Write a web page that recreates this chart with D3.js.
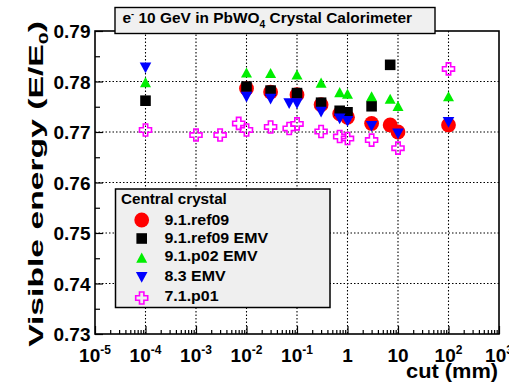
<!DOCTYPE html>
<html lang="en">
<head>
    <meta charset="UTF-8">
    <title>Visible energy vs cut</title>
    <script src="https://cdnjs.cloudflare.com/ajax/libs/d3/7.8.2/d3.min.js"></script>
    <style>
        body{
            margin: 0;
            background: white;
        }
        svg{
            display: block;
            font-family: "Liberation Sans", Arial, sans-serif;
            font-weight: bold;
        }
    </style>
</head>
<body>
    <div class="container"></div>
    <script>
        // data
        const ref09X = [0.01, 0.03, 0.1, 0.3, 0.7, 1, 3, 7, 10, 100];
        const ref09Y = [0.7786, 0.7779, 0.7774, 0.7754, 0.7736, 0.7729, 0.7717, 0.7714, 0.7700, 0.7714];

        const ref09EmvX = [1e-4, 0.01, 0.03, 0.1, 0.3, 0.7, 1, 3, 7];
        const ref09EmvY = [0.7762, 0.7790, 0.7782, 0.7777, 0.7758, 0.7742, 0.7739, 0.7751, 0.7833];

        const p02EmvX = [1e-4, 0.01, 0.03, 0.1, 0.3, 0.7, 1, 3, 7, 10, 100];
        const p02EmvY = [0.7798, 0.7817, 0.7816, 0.7813, 0.7797, 0.7778, 0.7775, 0.7770, 0.7765, 0.7751, 0.7770];

        const emv83X = [1e-4, 0.01, 0.03, 0.07, 0.1, 0.3, 0.7, 1, 3, 10, 100];
        const emv83Y = [0.7828, 0.7770, 0.7766, 0.7757, 0.7757, 0.7740, 0.7727, 0.7722, 0.7712, 0.7697, 0.7720];

        const p01X = [1e-4, 1e-3, 3e-3, 7e-3, 0.01, 0.03, 0.07, 0.1, 0.3, 0.7, 1, 3, 10, 100];
        const p01Y = [0.7704, 0.7694, 0.7694, 0.7717, 0.7704, 0.7710, 0.7707, 0.7716, 0.7701, 0.7691, 0.7687, 0.7684, 0.7668, 0.7825];

        const seriesNames = ['9.1.ref09', '9.1.ref09 EMV', '9.1.p02 EMV', '8.3 EMV', '7.1.p01'];
        const xTicks = [1e-5, 1e-4, 1e-3, 1e-2, 1e-1, 1, 10, 100, 1000];
        const xTickSup = ['-5', '-4', '-3', '-2', '-1', '', '', '2', '3'];
        const xTickBase = ['10', '10', '10', '10', '10', '1', '10', '10', '10'];
        const yTicks = [0.73, 0.74, 0.75, 0.76, 0.77, 0.78, 0.79];

        let width = 509;
        let height = 385;
        let mLeft = 95, mRight = 499, mTop = 31, mBottom = 334;

        const svg = d3.select('.container').append('svg')
            .attr('width', width).attr('height', height)

        const xScale = d3.scaleLog().domain([1e-5, 1e3]).range([mLeft, mRight])
        const yScale = d3.scaleLinear().domain([0.73, 0.79]).range([mBottom, mTop])

        // stretch a text element horizontally, either to a width or by a factor
        const fitWidth = (sel, w, anchorX) => {
            const bb = sel.node().getBBox()
            const s = w / bb.width
            sel.attr('transform', `translate(${anchorX},0) scale(${s},1) translate(${-anchorX},0)`)
        }
        const stretch = (sel, s, anchorX) => {
            sel.attr('transform', `translate(${anchorX},0) scale(${s},1) translate(${-anchorX},0)`)
        }

        // grid
        const grid = svg.append('g')
            .attr('stroke', 'black').attr('stroke-width', 1.1).attr('stroke-dasharray', '1.5,2')
        grid.selectAll('.gx').data(xTicks.slice(1, -1)).enter().append('line')
            .attr('x1', d => xScale(d)).attr('x2', d => xScale(d))
            .attr('y1', mTop).attr('y2', mBottom)
        grid.selectAll('.gy').data(yTicks.slice(1, -1)).enter().append('line')
            .attr('x1', mLeft).attr('x2', mRight)
            .attr('y1', d => yScale(d)).attr('y2', d => yScale(d))

        // axes (ticks pointing inward)
        const minorX = []
        xTicks.slice(0, -1).forEach(d => { for (let k = 2; k < 10; k++) minorX.push(d * k) })

        svg.append('g').attr('transform', `translate(0,${mBottom})`)
            .call(d3.axisBottom(xScale).tickValues(minorX).tickSize(-4).tickFormat(''))
        svg.append('g').attr('transform', `translate(0,${mBottom})`)
            .call(d3.axisBottom(xScale).tickValues(xTicks).tickSize(-8).tickFormat(''))

        const minorY = d3.range(0.735, 0.79, 0.01)
        svg.append('g').attr('transform', `translate(${mLeft},0)`)
            .call(d3.axisLeft(yScale).tickValues(minorY).tickSize(-5).tickFormat(''))
        const yMajor = svg.append('g').attr('transform', `translate(${mLeft},0)`)
            .call(d3.axisLeft(yScale).tickValues(yTicks).tickSize(-8).tickPadding(4.5)
                .tickFormat(d3.format('.2f')))

        svg.selectAll('.domain').remove()
        svg.selectAll('.tick line').attr('stroke', 'black').attr('stroke-width', 1.2)
        yMajor.selectAll('text')
            .style('font-size', '19px').style('font-family', '"Liberation Sans", Arial, sans-serif')
            .style('font-weight', 'bold').attr('fill', 'black').attr('dy', '0.36em')

        // x tick labels with exponents
        const xLab = svg.append('g').selectAll('text').data(xTicks).enter().append('text')
            .attr('x', d => xScale(d)).attr('y', 362)
            .attr('text-anchor', 'middle').style('font-size', '19px')
        xLab.append('tspan').text((d, i) => xTickBase[i])
        xLab.append('tspan').text((d, i) => xTickSup[i])
            .attr('dy', -8).style('font-size', '12px')

        // frame
        svg.append('rect')
            .attr('x', mLeft).attr('y', mTop).attr('width', mRight - mLeft).attr('height', mBottom - mTop)
            .attr('fill', 'none').attr('stroke', 'black').attr('stroke-width', 1.6)

        // marker shapes
        const sqPath = s => `M${-s},${-s}H${s}V${s}H${-s}Z`
        const upPath = s => `M0,${-s}L${s},${s * 0.85}L${-s},${s * 0.85}Z`
        const downPath = s => `M0,${s}L${s},${-s * 0.85}L${-s},${-s * 0.85}Z`
        const crossPath = (a, l) => `M${-a},${-l}H${a}V${-a}H${l}V${a}H${a}V${l}H${-a}V${a}H${-l}V${-a}H${-a}Z`

        const drawMarker = (g, kind) => {
            if (kind === 0) g.append('circle').attr('r', 7.4).attr('fill', '#ff0000')
            if (kind === 1) g.append('path').attr('d', sqPath(5.3)).attr('fill', 'black')
            if (kind === 2) g.append('path').attr('d', upPath(5.5)).attr('fill', '#00ee00')
            if (kind === 3) g.append('path').attr('d', downPath(5.8)).attr('fill', '#0000ff')
            if (kind === 4) g.append('path').attr('d', crossPath(2.2, 6)).attr('fill', 'none')
                .attr('stroke', '#ff00ff').attr('stroke-width', 1.6)
        }

        const allX = [ref09X, ref09EmvX, p02EmvX, emv83X, p01X]
        const allY = [ref09Y, ref09EmvY, p02EmvY, emv83Y, p01Y]

        allX.forEach((xs, k) => {
            const pts = xs.map((x, i) => ({x: x, y: allY[k][i]}))
            svg.append('g').selectAll('g').data(pts).enter().append('g')
                .attr('transform', d => `translate(${xScale(d.x)},${yScale(d.y)})`)
                .each(function () { drawMarker(d3.select(this), k) })
        })

        // legend
        const legY = [220, 238.5, 256, 276.5, 296]
        const legMarkY = [220, 238.5, 258, 277, 298]
        const legend = svg.append('g')
        legend.append('rect')
            .attr('x', 115.5).attr('y', 189).attr('width', 214.5).attr('height', 118.5)
            .attr('fill', '#efefef').attr('stroke', 'black').attr('stroke-width', 1.5)
        const legTitle = legend.append('text').text('Central crystal')
            .attr('x', 121).attr('y', 204.5).style('font-size', '15px')
        fitWidth(legTitle, 106, 121)
        seriesNames.forEach((name, k) => {
            const g = legend.append('g').attr('transform', `translate(141.7,${legMarkY[k]})`)
            drawMarker(g, k)
            const t = legend.append('text').text(name)
                .attr('x', 164.5).attr('y', legY[k] + 5).style('font-size', '14.5px')
            stretch(t, 1.1, 164.5)
        })

        // title box
        svg.append('rect')
            .attr('x', 115).attr('y', 7.5).attr('width', 320).attr('height', 26)
            .attr('fill', '#f0f0f0').attr('stroke', 'black').attr('stroke-width', 1.4)
        const title = svg.append('text').attr('x', 122.5).attr('y', 23).style('font-size', '15px')
        title.append('tspan').text('e')
        title.append('tspan').text('-').attr('dy', -6).style('font-size', '9px')
        title.append('tspan').text(' 10 GeV in PbWO').attr('dy', 6)
        title.append('tspan').text('4').attr('dy', 5).style('font-size', '10px')
        title.append('tspan').text(' Crystal Calorimeter').attr('dy', -5)
        fitWidth(title, 290, 122.5)

        // axis titles
        const cut = svg.append('text').text('cut (mm)')
            .attr('x', 498).attr('y', 378).attr('text-anchor', 'end').style('font-size', '21px')
        fitWidth(cut, 92, 498)

        const yTitleG = svg.append('g').attr('transform', 'translate(42.5,184) rotate(-90)')
        const yTitle = yTitleG.append('text').attr('x', 0).attr('y', 0)
            .attr('text-anchor', 'middle').style('font-size', '20.5px')
        yTitle.append('tspan').text('Visible energy (E/E')
        yTitle.append('tspan').text('0').attr('dy', 5).style('font-size', '13px')
        yTitle.append('tspan').text(')').attr('dy', -5)
        fitWidth(yTitle, 326, 0)
    </script>
</body>
</html>
